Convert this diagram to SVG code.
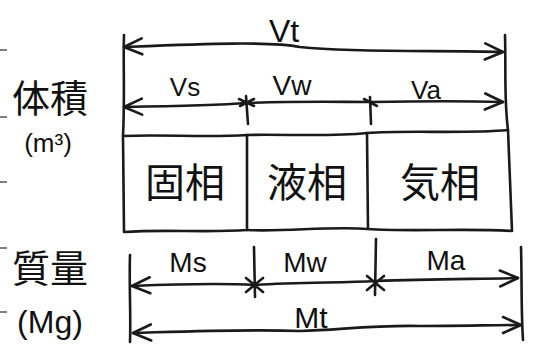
<svg xmlns="http://www.w3.org/2000/svg" width="535" height="364" viewBox="0 0 535 364">
<style>
.ln{fill:none;stroke:#1a1a1a;stroke-width:2.6;stroke-linecap:round;stroke-linejoin:round}
.tk{fill:none;stroke:#555;stroke-width:1.5}
.jp{font-family:"Noto Sans CJK JP","Noto Sans",sans-serif;fill:#111;text-anchor:middle}
.lb{font-family:"Liberation Sans","DejaVu Sans",sans-serif;fill:#111;text-anchor:middle}
</style>
<defs>
<marker id="ah" markerWidth="24" markerHeight="24" refX="20" refY="10" orient="auto-start-reverse" markerUnits="userSpaceOnUse" viewBox="0 0 24 20">
<path d="M2,2 L20,10 L2,18" fill="none" stroke="#1a1a1a" stroke-width="2.6" stroke-linecap="round" stroke-linejoin="round"/>
</marker>
</defs>
<rect width="535" height="364" fill="#fff"/>
<g id="ticks">
<path class="tk" d="M0,50H7M0,117H7M0,182H7M0,248H7M0,312H7"/>
</g>
<g id="label-volume">
<text class="jp" x="50" y="112" font-size="38">体積</text>
<text class="lb" x="48" y="152" font-size="26">(m³)</text>
</g>
<g id="label-mass">
<text class="jp" x="50" y="282" font-size="38">質量</text>
<text class="lb" x="50" y="333" font-size="32">(Mg)</text>
</g>
<g id="phase-solid">
<path class="ln" d="M123,136 C165,134 205,138 247,135 L247,230 C205,233 165,229 124,232 Z"/>
<text class="jp" x="185" y="197" font-size="40">固相</text>
</g>
<g id="phase-liquid">
<path class="ln" d="M247,135 C285,134 330,137 367,133 L368,229 C330,226 285,232 247,230"/>
<text class="jp" x="307" y="197" font-size="40">液相</text>
</g>
<g id="phase-gas">
<path class="ln" d="M367,133 C410,130 465,134 508,130 L512,231 C465,228 410,232 368,229"/>
<text class="jp" x="440" y="197" font-size="40">気相</text>
</g>
<g id="connectors">
<path class="ln" d="M124,35 C123,60 125,95 123,136"/>
<path class="ln" d="M505,35 C506,70 504,100 508,130"/>
<path class="ln" marker-start="url(#ah)" marker-end="url(#ah)" d="M124,47 C200,44 270,41 300,47 C360,53 440,50 503,52"/>
<path class="ln" marker-start="url(#ah)" marker-end="url(#ah)" d="M124,107 C180,106 220,105 247,103 C300,101 340,102 372,102 C420,101 470,101 503,102"/>
<path class="ln" d="M246,96 L248,124 M239,99 L254,106 M240,106 L254,99"/>
<path class="ln" d="M370,97 L371,124 M364,99 L377,106"/>
<path class="ln" d="M130,255 C129,285 131,315 130,342"/>
<path class="ln" d="M521,247 C522,280 521,310 523,340"/>
<path class="ln" marker-start="url(#ah)" marker-end="url(#ah)" d="M132,286 C180,284 220,283 255,285 C300,282 340,283 376,281 C430,279 480,279 518,278"/>
<path class="ln" marker-start="url(#ah)" marker-end="url(#ah)" d="M133,333 C200,331 250,329 300,331 C340,330 370,325 420,326 C460,326 495,325 521,325"/>
<path class="ln" d="M254,247 L255,297 M246,278 L263,292 M246,292 L263,278"/>
<path class="ln" d="M376,239 L375,295 M367,276 L384,290 M367,290 L384,276"/>
</g>
<g id="dim-labels">
<text class="lb" x="284" y="42" font-size="32">Vt</text>
<text class="lb" x="185" y="96" font-size="26">Vs</text>
<text class="lb" x="292" y="95" font-size="28">Vw</text>
<text class="lb" x="426" y="99" font-size="26">Va</text>
<text class="lb" x="188" y="272" font-size="28">Ms</text>
<text class="lb" x="305" y="272" font-size="28">Mw</text>
<text class="lb" x="446" y="270" font-size="28">Ma</text>
<text class="lb" x="311" y="328" font-size="30">Mt</text>
</g>
</svg>
